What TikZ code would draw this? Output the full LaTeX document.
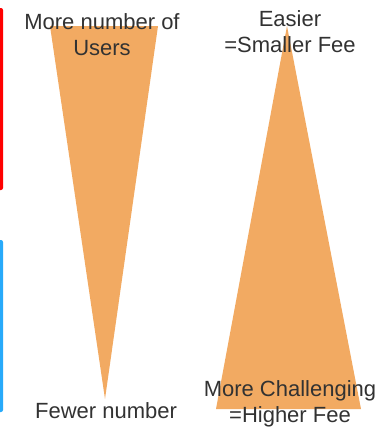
\documentclass[tikz,border=0pt]{standalone}
\usepackage{fontspec}
\setmainfont{Liberation Sans}
\definecolor{wedge}{RGB}{242,170,98}
\definecolor{labelgray}{RGB}{50,50,50}
\definecolor{barblue}{RGB}{40,170,250}
\tikzset{lbl/.style={text=labelgray,font=\fontsize{22}{26}\selectfont,align=center,inner sep=0pt}}

\begin{document}
\begin{tikzpicture}[x=1pt,y=-1pt]
    \useasboundingbox (0,0) rectangle (389,429);
    \fill[red,rounded corners=2pt] (-6,8) rectangle (3,190);
    \fill[barblue,rounded corners=2pt] (-6,240) rectangle (3,412);
    \fill[wedge] (50,26) -- (158,26) -- (105,399) -- cycle;
    \fill[wedge] (287,26) -- (361,409) -- (216,409) -- cycle;
    \node[lbl] (users) at (102,35) {More number of\\Users};
    \node[lbl] (fewer) at (106,411) {Fewer number};
    \node[lbl] (easier) at (290,32) {Easier\\=Smaller Fee};
    \node[lbl] (harder) at (290,404) {More Challenging\\=Higher Fee};
  \end{tikzpicture}
\end{document}
